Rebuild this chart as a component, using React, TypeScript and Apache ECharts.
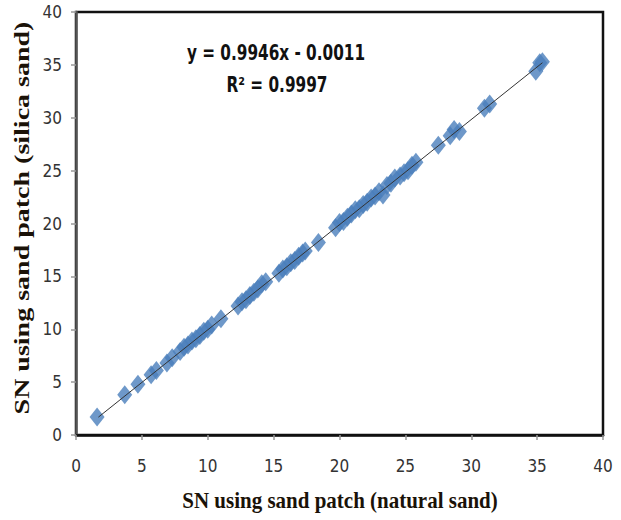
import React, { useEffect, useRef } from "react";
import * as echarts from "echarts";

const naturalSand: number[] = [
  1.6, 3.7, 4.7, 5.7, 6.1, 6.9, 7.3,
  7.9, 8.2, 8.5, 8.8, 9.1, 9.4, 9.7, 10.0, 10.3,
  11.0,
  12.3, 12.6, 12.9, 13.2, 13.5, 13.8, 14.1, 14.4,
  15.4, 15.7, 16.0, 16.3, 16.6, 16.9, 17.2, 17.4,
  18.4,
  19.7, 20.0, 20.3, 20.6, 20.9, 21.2, 21.5, 21.8, 22.1, 22.4, 22.7, 23.0, 23.3, 23.6, 23.9, 24.2, 24.6, 24.9, 25.2, 25.5, 25.8,
  27.5,
  28.4, 28.7, 29.1,
  31.0, 31.4,
  34.9, 35.2, 35.4,
];
const silicaSand: number[] = [
  1.7, 3.8, 4.8, 5.7, 6.1, 6.8, 7.3,
  7.9, 8.3, 8.5, 8.9, 9.1, 9.4, 9.8, 10.0, 10.4,
  11.0,
  12.2, 12.6, 12.8, 13.2, 13.5, 13.8, 14.3, 14.5,
  15.3, 15.7, 15.9, 16.3, 16.5, 16.9, 17.2, 17.4,
  18.2,
  19.6, 20.1, 20.2, 20.6, 20.9, 21.3, 21.4, 21.8, 22.0, 22.4, 22.6, 23.0, 22.7, 23.6, 23.8, 24.3, 24.5, 24.8, 25.0, 25.5, 25.8,
  27.4,
  28.3, 28.9, 28.7,
  30.9, 31.3,
  34.4, 35.2, 35.3,
];
const trendX: number[] = [1.7, 35.4];
const trendY: number[] = [1.69, 35.2];
const xTicks: number[] = [0, 5, 10, 15, 20, 25, 30, 35, 40];
const equationText = "y = 0.9946x - 0.0011";
const r2Text = "R² = 0.9997";
const xTitle = "SN using sand patch (natural sand)";
const yTitle = "SN using sand patch (silica sand)";

const labelFont = '"DejaVu Sans Condensed", "Liberation Sans Narrow", Roboto, sans-serif';

export default function App() {
  const ref = useRef<HTMLDivElement>(null);
  useEffect(() => {
    if (!ref.current) return;
    const chart = echarts.init(ref.current, null, { renderer: "svg" });
    const points = naturalSand.map((x, i) => [x, silicaSand[i]]);
    const trend = trendX.map((x, i) => [x, trendY[i]]);
    chart.setOption({
      animation: false,
      backgroundColor: "#ffffff",
      grid: {
        left: 76,
        right: 18,
        top: 12,
        bottom: 85,
        show: true,
        borderColor: "#111",
        borderWidth: 2.5,
        backgroundColor: "transparent",
      },
      xAxis: {
        type: "value",
        min: xTicks[0],
        max: xTicks[xTicks.length - 1],
        interval: 5,
        splitLine: { show: false },
        axisLine: { show: true, onZero: false, lineStyle: { color: "#111", width: 2.5 } },
        axisTick: { show: true, length: 5, lineStyle: { color: "#999", width: 1.5 } },
        axisLabel: { margin: 22, fontFamily: labelFont, fontSize: 17, color: "#333" },
      },
      yAxis: {
        type: "value",
        min: 0,
        max: 40,
        interval: 5,
        splitLine: { show: false },
        axisLine: { show: true, onZero: false, lineStyle: { color: "#555", width: 2.5 } },
        axisTick: { show: true, length: 5, lineStyle: { color: "#999", width: 1.5 } },
        axisLabel: { margin: 14, fontFamily: labelFont, fontSize: 17, color: "#333" },
      },
      graphic: [
        {
          type: "text",
          x: 276,
          y: 53,
          style: {
            text: equationText,
            font: 'bold 17px "DejaVu Sans Condensed", "Liberation Sans Narrow", Roboto, sans-serif',
            fill: "#111",
            textAlign: "center",
            textVerticalAlign: "middle",
          },
          scaleY: 1.2,
        },
        {
          type: "text",
          x: 277,
          y: 85,
          style: {
            text: r2Text,
            font: 'bold 17px "DejaVu Sans Condensed", "Liberation Sans Narrow", Roboto, sans-serif',
            fill: "#111",
            textAlign: "center",
            textVerticalAlign: "middle",
          },
          scaleY: 1.2,
        },
        {
          type: "text",
          x: 340,
          y: 500,
          style: {
            text: xTitle,
            font: 'bold 21px "Liberation Serif", "DejaVu Serif", serif',
            fill: "#1a1208",
            textAlign: "center",
            textVerticalAlign: "middle",
          },
          scaleY: 1.1,
        },
        {
          type: "text",
          x: 22,
          y: 218,
          rotation: Math.PI / 2,
          scaleX: 1.4,
          style: {
            text: yTitle,
            font: 'bold 20px "Liberation Serif", "DejaVu Serif", serif',
            fill: "#1a1208",
            textAlign: "center",
            textVerticalAlign: "middle",
          },
        },
      ],
      series: [
        {
          type: "scatter",
          data: points,
          symbol: "diamond",
          symbolSize: [15, 19],
          itemStyle: { color: "#4a7ebb" },
          z: 2,
        },
        {
          type: "line",
          data: trend,
          symbol: "none",
          lineStyle: { color: "#333", width: 1 },
          z: 3,
        },
      ],
    });
    return () => chart.dispose();
  }, []);
  return <div ref={ref} style={{ width: 621, height: 520, position: "absolute", left: 0, top: 0 }} />;
}
